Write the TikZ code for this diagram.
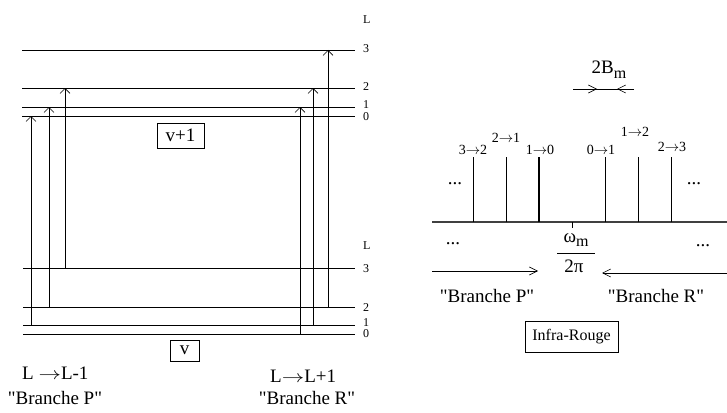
\documentclass[tikz,border=0pt]{standalone}
\usepackage{fontspec}
\setmainfont{Liberation Serif}
\usetikzlibrary{arrows.meta}

\newcommand{\fl}{$\rightarrow$}
\newcommand{\Fl}{\scalebox{1.3}[1]{$\rightarrow$}}
\newcommand{\qt}{\textquotedbl}

\begin{document}
\begin{tikzpicture}[x=1pt, y=-1pt, >={Straight Barb[length=5pt,width=10pt]},
  font=\fontsize{19}{22}\selectfont]
\tikzstyle{level} = [line width=0.8pt]
\tikzstyle{lnum} = [anchor=west, inner sep=0pt, font=\fontsize{12}{12}\selectfont]
\tikzstyle{box} = [draw, rectangle, inner sep=0pt, line width=0.7pt]
\tikzstyle{trans} = [inner sep=0pt, font=\fontsize{14}{14}\selectfont]
\tikzstyle{raie} = [line width=0.8pt]
\tikzstyle{fleche} = [line width=0.6pt, >={Straight Barb[length=8pt,width=8pt]}]

\useasboundingbox (0,0) rectangle (727,412);

% niveaux v+1 et v
\foreach \l/\y/\t in {3/50/49, 2/88/87, 1/107/104.5, 0/116/117}{
  \coordinate (upw\l) at (22,\y);
  \coordinate (up\l) at (355,\y);
  \draw[level] (upw\l) -- (up\l);
  \node[lnum] (upn\l) at (363,\t) {\l};
}
\foreach \l/\y/\t in {3/268/269, 2/307/307.5, 1/325/322.5, 0/334/334}{
  \coordinate (low\l) at (23,\y);
  \coordinate (lo\l) at (355,\y);
  \draw[level] (low\l) -- (lo\l);
  \node[lnum] (lon\l) at (363,\t) {\l};
}
\node[lnum] (Lup) at (363,20) {L};
\node[lnum] (Llo) at (363,246) {L};

\node[box, minimum width=47pt, minimum height=25pt] (vplus) at (180.5,135.5) {v+1};
\node[box, minimum width=29pt, minimum height=21pt] (v) at (184.5,350.5) {v};

% transitions P et R
\foreach \x/\f/\t in {31/1/0, 49/2/1, 65/3/2, 300/0/1, 313/1/2, 328/2/3}
  \draw[->, line width=0.6pt] (\x,0 |- lo\f) -- (\x,0 |- up\t);

\node[anchor=west, inner sep=0pt] (regP) at (22,373) {L \Fl L-1};
\node[anchor=west, inner sep=0pt] (regR) at (270,376) {L\Fl L+1};
\node (brP) at (55,398) {\qt Branche P\qt};
\node (brR) at (307,398) {\qt Branche R\qt};

% spectre infra-rouge
\coordinate (axL) at (432,222);
\coordinate (axR) at (727,222);
\draw[line width=1.2pt, black!75] (axL) -- (axR);
\coordinate (centre) at (572,222);
\draw[line width=0.6pt] (centre) -- ++(0,6);
\foreach \x in {473, 506, 605, 638, 671}
  \draw[raie] (\x,222) -- (\x,157);
\draw[raie, line width=1.2pt] (539,222) -- (539,157);
\node[trans] (t32) at (473,150) {3\fl 2};
\node[trans] (t21) at (506,138) {2\fl 1};
\node[trans] (t10) at (540,150) {1\fl 0};
\node[trans] (t01) at (601,150) {0\fl 1};
\node[trans] (t12) at (635,132) {1\fl 2};
\node[trans] (t23) at (672,147) {2\fl 3};

\node (dots1) at (455,184) {...};
\node (dots2) at (694,184) {...};
\node (dots3) at (453,244) {...};
\node (dots4) at (703,246) {...};

\node[inner sep=0pt] (bm) at (609,70) {2B\raisebox{-0.55ex}{\fontsize{16}{16}\selectfont m}};
\coordinate (bmA) at (573,89);
\coordinate (bmB) at (634,89);
\draw[fleche] (bmA) -- (bmB);
\draw[fleche, ->] (bmA) -- (597,89);
\draw[fleche, ->] (bmB) -- (617,89);

\node[inner sep=0pt] (omega) at (576,240) {ω\raisebox{-0.55ex}{\fontsize{16}{16}\selectfont m}};
\coordinate (frA) at (557,253);
\coordinate (frB) at (595,253);
\draw[line width=0.7pt] (frA) -- (frB);
\node[inner sep=0pt] (dpi) at (574,266) {2π};

\coordinate (pA) at (432,271);
\coordinate (pB) at (538,271);
\coordinate (rA) at (727,273);
\coordinate (rB) at (602,273);
\draw[fleche, ->] (pA) -- (pB);
\draw[fleche, ->] (rA) -- (rB);
\node (brP2) at (487,296) {\qt Branche P\qt};
\node (brR2) at (656,296) {\qt Branche R\qt};

\node[box, minimum width=93pt, minimum height=31pt, font=\fontsize{16}{16}\selectfont] (ir) at (571.5,336.5) {Infra-Rouge};

\end{tikzpicture}
\end{document}
